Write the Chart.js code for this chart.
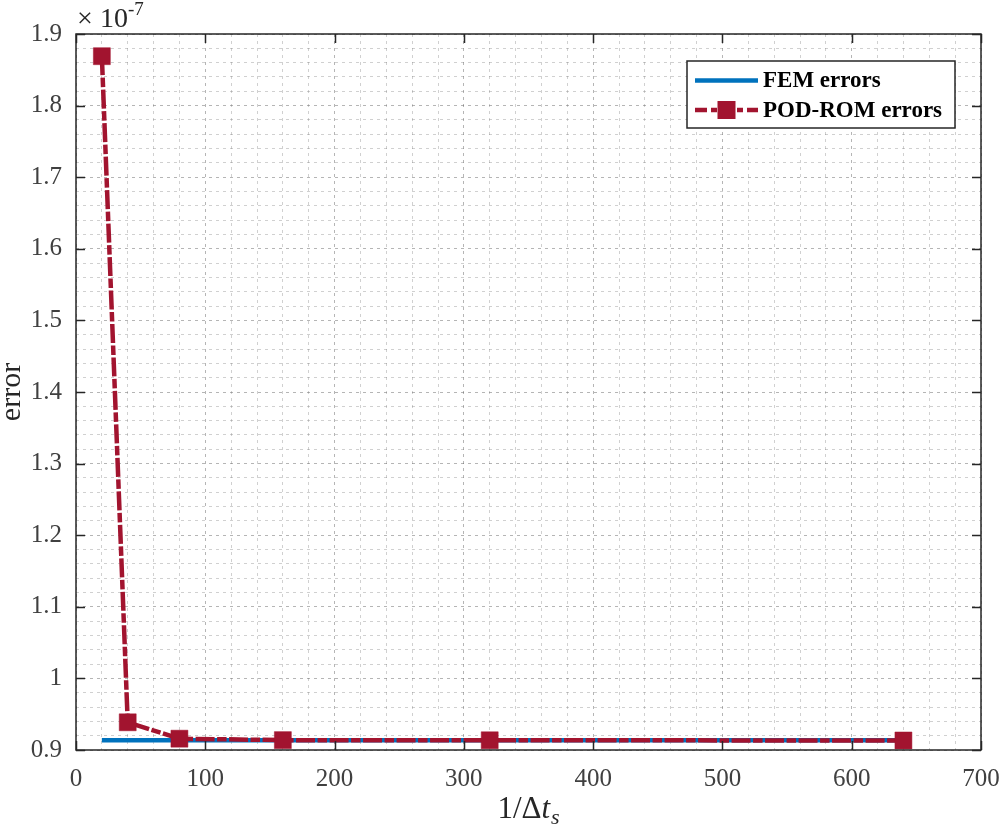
<!DOCTYPE html>
<html>
<head>
<meta charset="utf-8">
<script src="https://cdn.jsdelivr.net/npm/chart.js@4/dist/chart.umd.min.js"></script>
<style>
  html, body { margin: 0; padding: 0; background: #fff; }
  #c { display: block; }
</style>
</head>
<body>
<canvas id="c" width="1000" height="829"></canvas>
<script>
// ---- data (errors in units of 1e-7) ----
const xValues = [20, 40, 80, 160, 320, 640];
const femErrors = [0.9135, 0.9135, 0.9135, 0.9135, 0.9135, 0.9135];
const podErrors = [1.869, 0.9387, 0.9158, 0.9138, 0.9136, 0.9133];
const seriesLabels = ['FEM errors', 'POD-ROM errors'];
const xMajorTicks = [0, 100, 200, 300, 400, 500, 600, 700];
const yMajorTicks = [0.9, 1.0, 1.1, 1.2, 1.3, 1.4, 1.5, 1.6, 1.7, 1.8, 1.9];
const exponentLabel = '-7';
const xTitle = ['1/Δ', 't', 's'];
const yTitle = 'error';

const BLUE = '#0072BD';
const RED = '#A2142F';
const AXIS = '#262626';
const SERIF = '"Liberation Serif", "Times New Roman", serif';
const POD_DASH = [19, 2.5, 9.5, 2.5];

const toPts = (ys) => xValues.map((x, i) => ({ x: x, y: ys[i] }));

const isMajorX = (v) => Math.abs(v / 100 - Math.round(v / 100)) < 1e-6;
const isMajorY = (v) => Math.round(v * 100) % 10 === 0;

const framePlugin = {
  id: 'frame',
  afterDraw(chart) {
    const ctx = chart.ctx;
    const a = chart.chartArea;
    const xs = chart.scales.x, ys = chart.scales.y;
    ctx.save();
    // box
    ctx.strokeStyle = AXIS;
    ctx.lineWidth = 1.5;
    ctx.setLineDash([]);
    ctx.strokeRect(a.left, a.top, a.right - a.left, a.bottom - a.top);
    // ticks inward
    const tl = 9;
    ctx.beginPath();
    xMajorTicks.forEach(v => {
      const px = Math.round(xs.getPixelForValue(v)) + 0.5;
      ctx.moveTo(px, a.bottom); ctx.lineTo(px, a.bottom - tl);
      ctx.moveTo(px, a.top); ctx.lineTo(px, a.top + tl);
    });
    yMajorTicks.forEach(v => {
      const py = Math.round(ys.getPixelForValue(v)) + 0.5;
      ctx.moveTo(a.left, py); ctx.lineTo(a.left + tl, py);
      ctx.moveTo(a.right, py); ctx.lineTo(a.right - tl, py);
    });
    ctx.stroke();

    // exponent label
    ctx.fillStyle = AXIS;
    ctx.textBaseline = 'alphabetic';
    ctx.textAlign = 'left';
    ctx.font = '28px ' + SERIF;
    ctx.fillText('×', 77, 27);
    ctx.fillText('10', 100, 27);
    ctx.font = '19px ' + SERIF;
    ctx.fillText(exponentLabel, 128, 15);

    // x title
    ctx.fillStyle = AXIS;
    const fBig = '31px ' + SERIF, fIt = 'italic 31px ' + SERIF, fSub = 'italic 22px ' + SERIF;
    ctx.font = fBig; const w1 = ctx.measureText(xTitle[0]).width;
    ctx.font = fIt; const w2 = ctx.measureText(xTitle[1]).width;
    ctx.font = fSub; const w3 = ctx.measureText(xTitle[2]).width;
    const total = w1 + w2 + w3 + 1;
    let sx = (a.left + a.right) / 2 - total / 2;
    const by = 818;
    ctx.font = fBig; ctx.fillText(xTitle[0], sx, by); sx += w1;
    ctx.font = fIt; ctx.fillText(xTitle[1], sx, by); sx += w2 + 1;
    ctx.font = fSub; ctx.fillText(xTitle[2], sx, by + 6);

    // y title
    ctx.save();
    ctx.translate(20, (a.top + a.bottom) / 2);
    ctx.rotate(-Math.PI / 2);
    ctx.font = '30px ' + SERIF;
    ctx.textAlign = 'center';
    ctx.textBaseline = 'alphabetic';
    ctx.fillText(yTitle, 0, 0);
    ctx.restore();

    // legend
    const lx = 687, ly = 61, lw = 268, lh = 67;
    ctx.fillStyle = '#fff';
    ctx.fillRect(lx, ly, lw, lh);
    ctx.strokeStyle = AXIS;
    ctx.lineWidth = 1.5;
    ctx.strokeRect(lx, ly, lw, lh);
    const ds = chart.data.datasets;
    const rows = [80.5, 110];
    ctx.strokeStyle = ds[0].borderColor;
    ctx.lineWidth = 4.5;
    ctx.lineCap = 'butt';
    ctx.beginPath(); ctx.moveTo(695, rows[0]); ctx.lineTo(758, rows[0]); ctx.stroke();
    ctx.strokeStyle = ds[1].borderColor;
    ctx.setLineDash([12, 4, 6, 4]);
    ctx.beginPath(); ctx.moveTo(695, rows[1]); ctx.lineTo(758, rows[1]); ctx.stroke();
    ctx.setLineDash([]);
    ctx.fillStyle = ds[1].borderColor;
    ctx.fillRect(726.5 - 9, rows[1] - 9, 18, 18);
    ctx.fillStyle = '#000';
    ctx.font = 'bold 23px ' + SERIF;
    ctx.textAlign = 'left';
    ctx.textBaseline = 'middle';
    ctx.fillText(ds[0].label, 763, rows[0] + 1);
    ctx.fillText(ds[1].label, 763, rows[1] + 1);
    ctx.restore();
  }
};

const gridColor = (major) => major ? 'rgba(90,90,90,0.45)' : 'rgba(120,120,120,0.35)';

new Chart(document.getElementById('c'), {
  type: 'line',
  data: {
    datasets: [
      {
        label: seriesLabels[0],
        data: toPts(femErrors),
        borderColor: BLUE,
        backgroundColor: BLUE,
        borderWidth: 4.5,
        pointRadius: 0,
        tension: 0,
        order: 1
      },
      {
        label: seriesLabels[1],
        data: toPts(podErrors),
        borderColor: RED,
        backgroundColor: RED,
        borderWidth: 4.5,
        borderDash: POD_DASH,
        borderCapStyle: 'butt',
        pointStyle: 'rect',
        pointRadius: 12,
        pointBorderWidth: 0.5,
        pointBackgroundColor: RED,
        pointBorderColor: RED,
        tension: 0,
        order: 0
      }
    ]
  },
  options: {
    responsive: false,
    animation: false,
    devicePixelRatio: 1,
    layout: { padding: { top: 34, right: 19, left: 0, bottom: 0 } },
    plugins: { legend: { display: false }, tooltip: { enabled: false } },
    scales: {
      x: {
        type: 'linear',
        min: 0, max: 700,
        afterFit: (s) => { s.height = 79; s.paddingLeft = 0; s.paddingRight = 0; },
        border: { display: false, dash: [3, 4] },
        grid: {
          drawTicks: false,
          lineWidth: 1,
          color: (c) => gridColor(c.tick && isMajorX(c.tick.value))
        },
        ticks: {
          stepSize: 20,
          autoSkip: false,
          maxRotation: 0,
          padding: 14,
          color: '#404040',
          font: { family: SERIF, size: 25 },
          callback: (v) => isMajorX(v) ? String(Math.round(v)) : ''
        }
      },
      y: {
        type: 'linear',
        min: 0.9, max: 1.9,
        afterFit: (s) => { s.width = 76; s.paddingTop = 0; s.paddingBottom = 0; },
        border: { display: false, dash: [3, 4] },
        grid: {
          drawTicks: false,
          lineWidth: 1,
          color: (c) => gridColor(c.tick && isMajorY(c.tick.value))
        },
        ticks: {
          stepSize: 0.02,
          autoSkip: false,
          padding: 14,
          color: '#404040',
          font: { family: SERIF, size: 25 },
          callback: (v) => isMajorY(v) ? String(Math.round(v * 10) / 10) : ''
        }
      }
    }
  },
  plugins: [framePlugin]
});
</script>
</body>
</html>
